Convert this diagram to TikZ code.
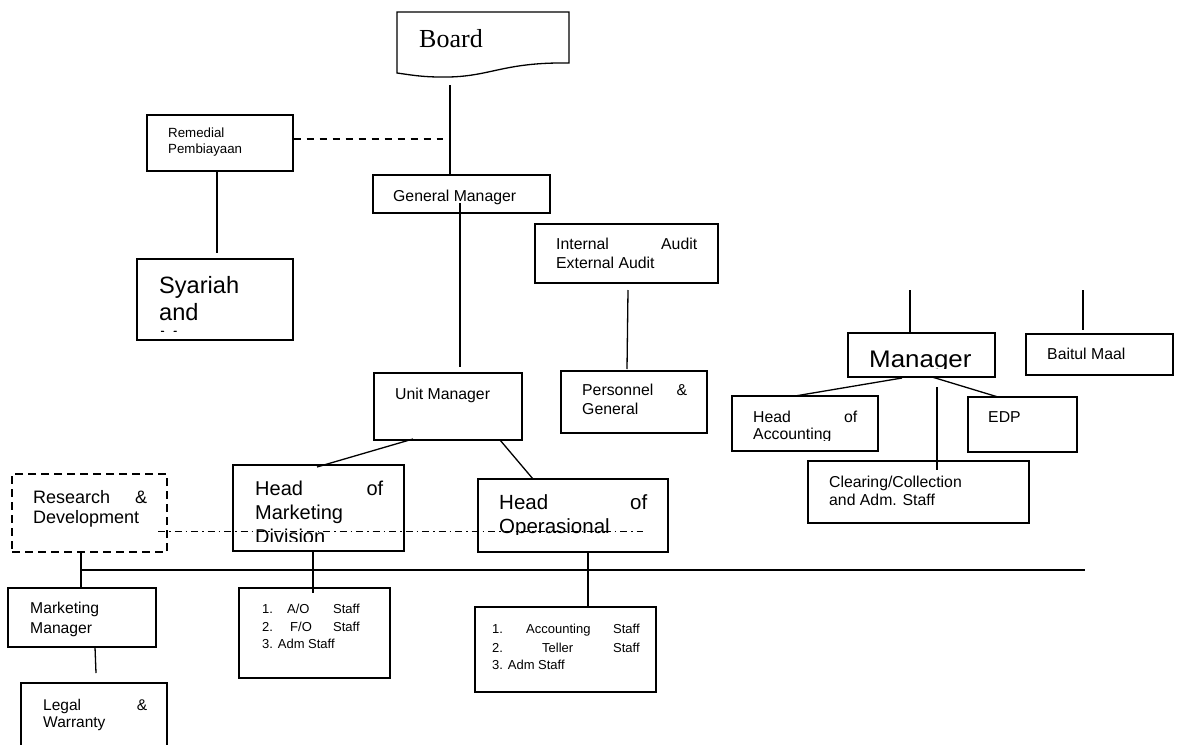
\documentclass[tikz,border=0pt]{standalone}
\usepackage{fontspec}
\setmainfont{Liberation Sans}
\newfontfamily\serifboard{Liberation Serif}
\newcommand\fsz[1]{\fontsize{#1}{#1}\selectfont}
\tikzset{
  box/.style={draw, line width=1.3pt, inner sep=0pt},
  dbox/.style={box, dash pattern=on 8pt off 5pt},
  lbl/.style={anchor=base west, inner sep=0pt, font=\fsz{15.8}},
  conn/.style={line width=1.3pt},
  dotdash/.style={line width=1pt, dash pattern=on 7pt off 4pt on 1.5pt off 4pt},
}
\newcommand\orgbox[6][box]{%
  \node[#1, minimum width={(#5-#3)*1pt}, minimum height={(#6-#4)*1pt}]
    (#2) at ({(#3+#5)/2},{(#4+#6)/2}) {};}
\begin{document}
\begin{tikzpicture}[x=1pt,y=-1pt]
\useasboundingbox (0,0) rectangle (1177,744);
% ---------- Board ----------
\draw[conn] (397,12) -- (569,12) -- (569,63)
  .. controls (500,62) and (490,78) .. (440,77)
  .. controls (420,77) and (405,74) .. (397,73) -- cycle;
\node[lbl, font=\serifboard\fsz{26}] (board) at (419,47) {Board};
% ---------- boxes ----------
\orgbox{rem}{147}{115}{293}{171}
\orgbox{syr}{137}{259}{293}{340}
\orgbox{gm}{373}{175}{550}{213}
\orgbox{ia}{535}{224}{718}{283}
\orgbox{pg}{561}{371}{707}{433}
\orgbox{um}{374}{373}{522}{440}
\orgbox{mgr}{848}{333}{995}{377}
\orgbox{bm}{1026}{334}{1173}{375}
\orgbox{hoa}{732}{396}{878}{451}
\orgbox{edp}{968}{397}{1077}{452}
\orgbox{clr}{808}{461}{1029}{523}
\orgbox[dbox]{rd}{12}{474}{167}{552}
\orgbox{hom}{233}{465}{404}{551}
\orgbox{hoo}{478}{479}{668}{552}
\orgbox{mm}{8}{588}{156}{647}
\begin{scope}
  \clip (0,0) rectangle (1177,744);
  \orgbox{lw}{21}{683}{167}{770}
\end{scope}
\orgbox{st1}{239}{588}{390}{678}
\orgbox{st2}{475}{607}{656}{692}
% ---------- texts ----------
\node[lbl, font=\fsz{13.3}] (t-rem1) at (168,137) {Remedial};
\node[lbl, font=\fsz{13.3}] (t-rem2) at (168,153) {Pembiayaan};
\begin{scope}
  \clip (139,261) rectangle (291,331);
  \node[lbl, font=\fsz{23.6}] (t-syr1) at (159,293) {Syariah};
  \node[lbl, font=\fsz{23.6}] (t-syr2) at (159,320) {and};
  \node[lbl, font=\fsz{23.6}] (t-syr3) at (159,347) {Management};
\end{scope}
\node[lbl] (t-gm) at (393,201) {General Manager};
\node[lbl] (t-ia1) at (556,249) {\makebox[141pt][s]{Internal Audit}};
\node[lbl] (t-ia2) at (556,268) {External Audit};
\node[lbl] (t-pg1) at (582,395) {\makebox[105pt][s]{Personnel \&}};
\node[lbl] (t-pg2) at (582,414) {General};
\node[lbl] (t-um) at (395,399) {Unit Manager};
\begin{scope}
  \clip (850,335) rectangle (993,368);
  \node[lbl, font=\fsz{24}] (t-mgr) at (869,367) {\scalebox{1.08}[1]{Manager}};
\end{scope}
\node[lbl] (t-bm) at (1047,359) {Baitul Maal};
\begin{scope}
  \clip (734,398) rectangle (876,440);
  \node[lbl] (t-hoa1) at (753,422) {\makebox[104pt][s]{Head of}};
  \node[lbl] (t-hoa2) at (753,439) {Accounting};
\end{scope}
\node[lbl] (t-edp) at (988,422) {EDP};
\node[lbl] (t-clr1) at (829,487) {Clearing/Collection};
\node[lbl] (t-clr2) at (829,505) {and Adm. Staff};
\node[lbl, font=\fsz{18}] (t-rd1) at (33,503) {\makebox[114pt][s]{Research \&}};
\node[lbl, font=\fsz{18}] (t-rd2) at (33,523) {Development};
\begin{scope}
  \clip (235,467) rectangle (402,541);
  \node[lbl, font=\fsz{20}] (t-hom1) at (255,495) {\makebox[128pt][s]{Head of}};
  \node[lbl, font=\fsz{20}] (t-hom2) at (255,519) {Marketing};
  \node[lbl, font=\fsz{20}] (t-hom3) at (255,543) {Division};
\end{scope}
\begin{scope}
  \clip (480,481) rectangle (666,534);
  \node[lbl, font=\fsz{20.5}] (t-hoo1) at (499,509) {\makebox[148pt][s]{Head of}};
  \node[lbl, font=\fsz{20.5}] (t-hoo2) at (499,533) {Operasional};
\end{scope}
\node[lbl, font=\fsz{15.7}] (t-mm1) at (30,613) {Marketing};
\node[lbl, font=\fsz{15.7}] (t-mm2) at (30,633) {Manager};
\node[lbl, font=\fsz{15.5}] (t-lw1) at (43,710) {\makebox[104pt][s]{Legal \&}};
\node[lbl, font=\fsz{15.5}] (t-lw2) at (43,727) {Warranty};
\node[lbl, font=\fsz{13}] (t-s11) at (262,613) {\makebox[25pt][l]{1.}\makebox[46pt][l]{A/O}Staff};
\node[lbl, font=\fsz{13}] (t-s12) at (262,631) {\makebox[28pt][l]{2.}\makebox[43pt][l]{F/O}Staff};
\node[lbl, font=\fsz{13}] (t-s13) at (262,648) {3. Adm Staff};
\node[lbl, font=\fsz{13}] (t-s21) at (492,633) {\makebox[34pt][l]{1.}\makebox[87pt][l]{Accounting}Staff};
\node[lbl, font=\fsz{13}] (t-s22) at (492,652) {\makebox[50pt][l]{2.}\makebox[71pt][l]{Teller}Staff};
\node[lbl, font=\fsz{13}] (t-s23) at (492,669) {3. Adm Staff};
% ---------- connectors ----------
\coordinate (bd) at (450,85);
\draw[conn] (bd) -- (bd |- gm.north);
\coordinate (dashend) at (443,139);
\draw[conn, dash pattern=on 7pt off 6pt] (rem.east |- dashend) -- (dashend);
\coordinate (rs) at (217,253);
\draw[conn] (rs |- rem.south) -- (rs);
\coordinate (gu1) at (460,203);
\coordinate (gu2) at (460,367);
\draw[conn] (gu1) -- (gu2);
\coordinate (ia1) at (628,290);
\coordinate (ia2) at (627,369);
\draw[conn] (ia1) -- (ia2);
\coordinate (mt) at (910,290);
\draw[conn] (mt) -- (mt |- mgr.north);
\coordinate (bt1) at (1083,290);
\coordinate (bt2) at (1083,330);
\draw[conn] (bt1) -- (bt2);
\coordinate (ma1) at (902,378);
\coordinate (ma2) at (795,396);
\draw[conn] (ma1) -- (ma2);
\coordinate (me1) at (932,377);
\coordinate (me2) at (998,397);
\draw[conn] (me1) -- (me2);
\coordinate (mc1) at (937,387);
\coordinate (mc2) at (937,470);
\draw[conn] (mc1) -- (mc2);
\coordinate (uh1) at (413,439);
\coordinate (uh2) at (317,467);
\draw[conn] (uh1) -- (uh2);
\coordinate (uo1) at (500,440);
\coordinate (uo2) at (533,479);
\draw[conn] (uo1) -- (uo2);
\coordinate (rdx) at (81,570);
\draw[conn] (rdx |- rd.south) -- (rdx |- mm.north);
\coordinate (hend) at (1085,570);
\draw[conn] (rdx) -- (hend);
\coordinate (ms) at (313,593);
\draw[conn] (ms |- hom.south) -- (ms);
\coordinate (os) at (588,570);
\draw[conn] (os |- hoo.south) -- (os |- st2.north);
\coordinate (ml1) at (95,647);
\coordinate (ml2) at (96,673);
\draw[conn] (ml1) -- (ml2);
\coordinate (dd1) at (158,531);
\coordinate (dd2) at (643,531);
\draw[dotdash] (dd1) -- (dd2);
\end{tikzpicture}
\end{document}
